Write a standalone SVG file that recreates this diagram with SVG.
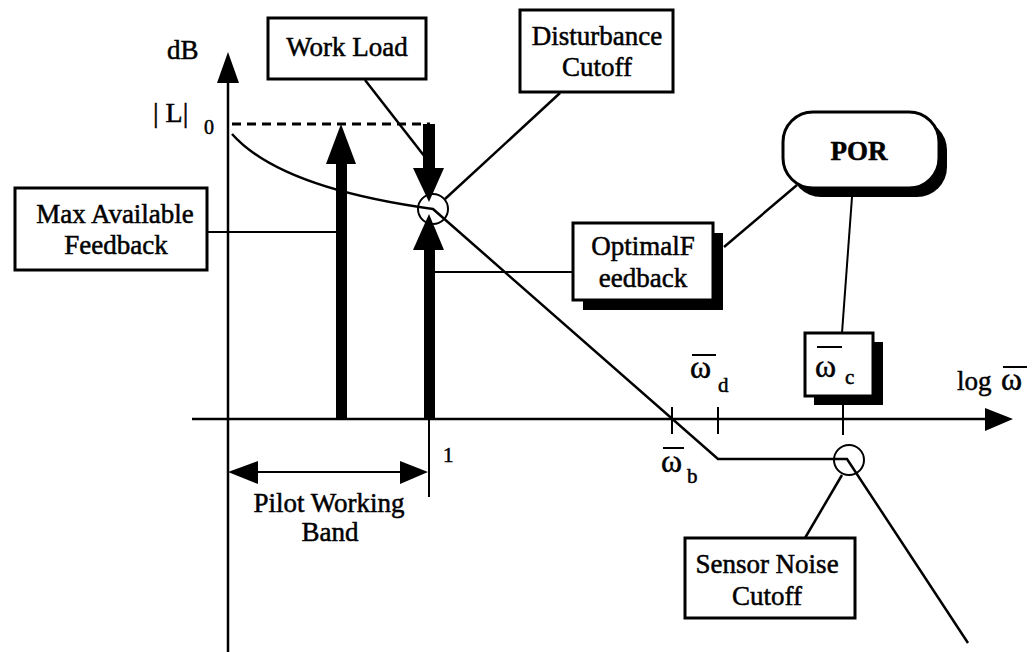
<svg xmlns="http://www.w3.org/2000/svg" width="1034" height="652" viewBox="0 0 1034 652">
<style>
text{font-family:"Liberation Serif","Times New Roman",serif;fill:#000;stroke:#000;stroke-width:0.5}
.lbl{font-size:27px;text-anchor:middle}
.box{fill:#fff;stroke:#000;stroke-width:3}
.sh{fill:#000}
.ln{stroke:#000;stroke-width:2.5;fill:none}
.th{stroke:#000;stroke-width:2;fill:none}
.w{font-size:32px}
.sub{font-size:21px}
</style>
<rect width="1034" height="652" fill="#fff"/>
<g id="axes">
<line class="ln" x1="228" y1="78" x2="228" y2="652"/>
<polygon points="228,52 217,83 239,83"/>
<line class="ln" x1="192" y1="419" x2="990" y2="419"/>
<polygon points="1013,419 985,408 985,431"/>
<line x1="232" y1="124" x2="430" y2="124" stroke="#000" stroke-width="3" stroke-dasharray="9,6"/>
<line class="th" x1="672" y1="407" x2="672" y2="434"/>
<line class="th" x1="718" y1="407" x2="718" y2="434"/>
<line class="th" x1="843" y1="405" x2="843" y2="435"/>
<line class="th" x1="429" y1="419" x2="429" y2="497"/>
</g>
<g id="curve">
<path class="ln" d="M232,134 Q280,188 433,209 L718,459 L847,459 L968,643"/>
<circle cx="433" cy="209" r="15" class="th"/>
<circle cx="849" cy="460" r="15" class="th"/>
</g>
<g id="arrows">
<rect x="336" y="160" width="11" height="260"/>
<polygon points="341,124 326,164 356,164"/>
<rect x="423" y="124" width="12" height="46"/>
<polygon points="413,168 444,168 429,202"/>
<rect x="424" y="248" width="11" height="172"/>
<polygon points="429,214 413,250 444,250"/>
<line class="th" x1="255" y1="472" x2="403" y2="472"/>
<polygon points="228,472 258,461 258,484"/>
<polygon points="428,472 400,461 400,484"/>
</g>
<g id="labels">
<text x="167" y="59" style="font-size:27px">dB</text>
<text x="153" y="122" style="font-size:28px">| L|</text>
<text x="204" y="134" style="font-size:20px">0</text>
<text x="443" y="462" style="font-size:21px">1</text>
<text class="lbl" x="329" y="512">Pilot Working</text>
<text class="lbl" x="330" y="541">Band</text>
<text class="w" x="661" y="472">ω</text>
<line class="th" x1="663" y1="448" x2="684" y2="448"/>
<text class="sub" x="687" y="483">b</text>
<text class="w" x="690" y="378">ω</text>
<line class="th" x1="692" y1="355" x2="716" y2="355"/>
<text class="sub" x="718" y="392">d</text>
<text x="957" y="390" style="font-size:27px">log</text>
<text class="w" x="1001" y="390">ω</text>
<line class="th" x1="1003" y1="367" x2="1027" y2="367"/>
</g>
<g id="connectors">
<line class="ln" x1="365" y1="80" x2="425" y2="157"/>
<line class="ln" x1="560" y1="93" x2="445" y2="199"/>
<line class="th" x1="207" y1="232" x2="336" y2="232"/>
<line class="th" x1="435" y1="272" x2="573" y2="272"/>
<line class="ln" x1="724" y1="247" x2="797" y2="185"/>
<line class="th" x1="852" y1="197" x2="842" y2="333"/>
<line class="ln" x1="805" y1="538" x2="842" y2="475"/>
</g>
<g id="work-load">
<rect class="box" x="268" y="18" width="158" height="61"/>
<text class="lbl" x="347" y="56">Work Load</text>
</g>
<g id="disturbance-cutoff">
<rect class="box" x="520" y="10" width="153" height="82"/>
<text class="lbl" x="597" y="45">Disturbance</text>
<text class="lbl" x="597" y="76">Cutoff</text>
</g>
<g id="max-available-feedback">
<rect class="box" x="15" y="188" width="192" height="82"/>
<text class="lbl" x="115" y="223">Max Available</text>
<text class="lbl" x="116" y="254">Feedback</text>
</g>
<g id="optimal-feedback">
<rect class="sh" x="583" y="233" width="140" height="77"/>
<rect class="box" x="573" y="223" width="140" height="77"/>
<text class="lbl" x="643" y="255">OptimalF</text>
<text class="lbl" x="643" y="287">eedback</text>
</g>
<g id="por">
<rect class="sh" x="791" y="120" width="156" height="77" rx="30"/>
<rect class="box" x="783" y="112" width="156" height="76" rx="30"/>
<text class="lbl" x="859" y="160" style="font-weight:bold">POR</text>
</g>
<g id="omega-c">
<rect class="sh" x="814" y="342" width="69" height="63"/>
<rect class="box" x="805" y="333" width="68" height="63"/>
<text class="w" x="815" y="377">ω</text>
<line class="th" x1="817" y1="347" x2="842" y2="347"/>
<text class="sub" x="845" y="384">c</text>
</g>
<g id="sensor-noise-cutoff">
<rect class="box" x="685" y="538" width="170" height="80"/>
<text class="lbl" x="767" y="573">Sensor Noise</text>
<text class="lbl" x="767" y="605">Cutoff</text>
</g>
</svg>
